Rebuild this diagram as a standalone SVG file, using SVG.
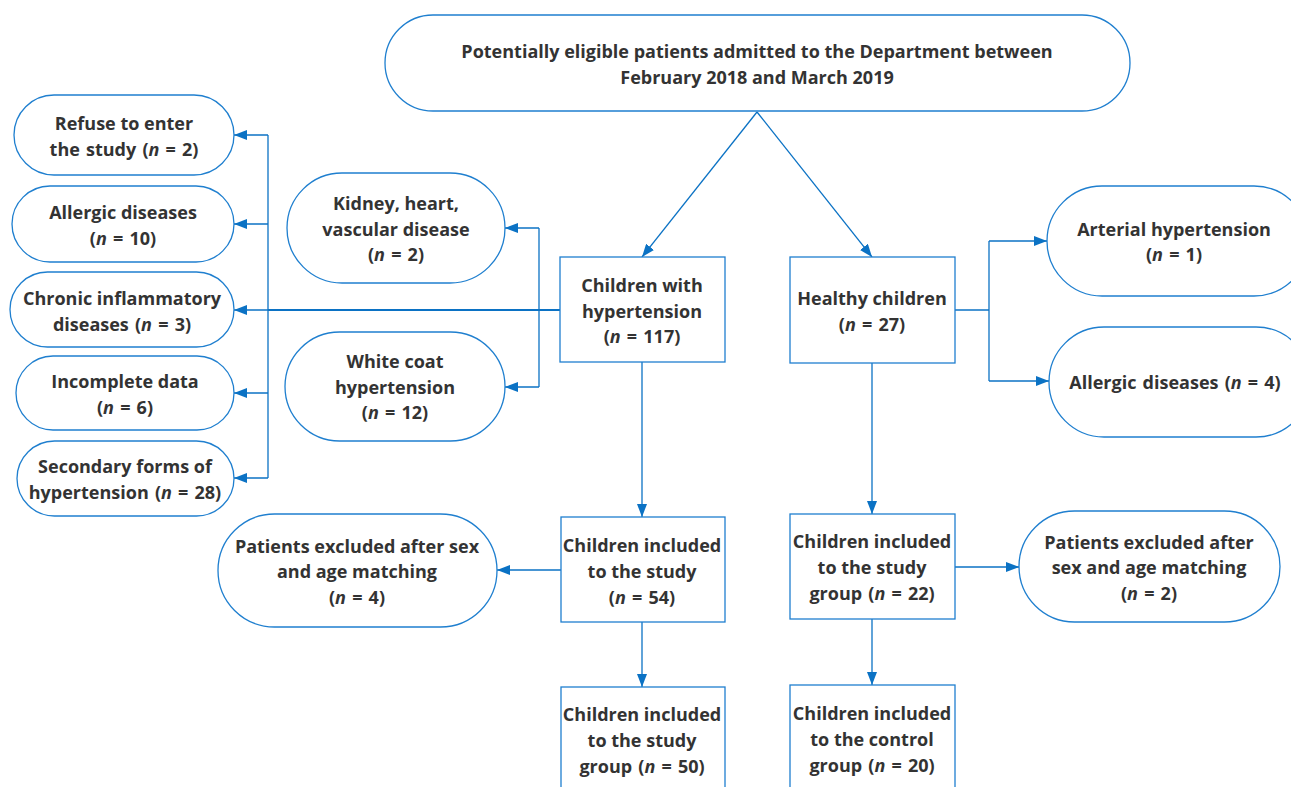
<svg xmlns="http://www.w3.org/2000/svg" width="1291" height="787" viewBox="0 0 1291 787">
<style>
.n{fill:#fff;stroke:#1f7fcf;stroke-width:1.3}
.t{font-family:"Open Sans","Noto Sans","DejaVu Sans",sans-serif;font-weight:bold;font-size:18px;fill:#333;text-anchor:middle}
.w{word-spacing:1.5px}
.i{font-style:italic}
.c{fill:none;stroke:#0b72c4;stroke-width:1.3}
.ca{fill:none;stroke:#0b72c4;stroke-width:1.3;marker-end:url(#ah)}
</style>
<defs>
<marker id="ah" markerUnits="userSpaceOnUse" markerWidth="13" markerHeight="10" refX="13" refY="5" orient="auto" viewBox="0 0 13 10">
<path d="M0,0 L13,5 L0,10 z" fill="#0b72c4"/>
</marker>
</defs>
<rect width="1291" height="787" fill="#fff"/>
<g id="connectors">
<line class="ca" x1="757" y1="112" x2="642" y2="257"/>
<line class="ca" x1="757" y1="112" x2="872" y2="257"/>
<line class="c" x1="560" y1="310" x2="268" y2="310" style="stroke-width:2.2"/>
<line class="c" x1="268" y1="135" x2="268" y2="478"/>
<line class="ca" x1="268" y1="135" x2="234" y2="135"/>
<line class="ca" x1="268" y1="224" x2="234" y2="224"/>
<line class="ca" x1="268" y1="310" x2="234" y2="310"/>
<line class="ca" x1="268" y1="393" x2="234" y2="393"/>
<line class="ca" x1="268" y1="478" x2="234" y2="478"/>
<line class="c" x1="539" y1="228" x2="539" y2="387"/>
<line class="ca" x1="539" y1="228" x2="505" y2="228"/>
<line class="ca" x1="539" y1="387" x2="505" y2="387"/>
<line class="ca" x1="642" y1="362" x2="642" y2="517"/>
<line class="ca" x1="561" y1="570" x2="497" y2="570"/>
<line class="ca" x1="642" y1="622" x2="642" y2="687"/>
<line class="c" x1="955" y1="310" x2="989" y2="310"/>
<line class="c" x1="989" y1="241" x2="989" y2="381"/>
<line class="ca" x1="989" y1="241" x2="1047" y2="241"/>
<line class="ca" x1="989" y1="381" x2="1049" y2="381"/>
<line class="ca" x1="872" y1="363" x2="872" y2="514"/>
<line class="ca" x1="955" y1="567" x2="1019" y2="567"/>
<line class="ca" x1="872" y1="619" x2="872" y2="685"/>
</g>
<g id="top"><rect class="n" x="385" y="15" width="745" height="96" rx="48"/>
<text class="t" x="757" y="58">Potentially eligible patients admitted to the Department between</text>
<text class="t" x="757" y="84">February 2018 and March 2019</text></g>
<g id="refuse"><rect class="n" x="14" y="95" width="220" height="80" rx="40"/>
<text class="t" x="124" y="130">Refuse to enter</text>
<text class="t w" x="124" y="156">the study (<tspan class="i">n</tspan> = 2)</text></g>
<g id="allergicL"><rect class="n" x="12" y="186" width="222" height="76" rx="38"/>
<text class="t" x="123" y="219">Allergic diseases</text>
<text class="t w" x="123" y="245">(<tspan class="i">n</tspan> = 10)</text></g>
<g id="chronic"><rect class="n" x="10" y="272" width="224" height="75" rx="37.5"/>
<text class="t" x="122" y="305">Chronic inflammatory</text>
<text class="t w" x="122" y="331">diseases (<tspan class="i">n</tspan> = 3)</text></g>
<g id="incomplete"><rect class="n" x="16" y="356" width="218" height="74" rx="37"/>
<text class="t" x="125" y="388">Incomplete data</text>
<text class="t w" x="125" y="414">(<tspan class="i">n</tspan> = 6)</text></g>
<g id="secondary"><rect class="n" x="17" y="441" width="217" height="75" rx="37.5"/>
<text class="t" x="125" y="473">Secondary forms of</text>
<text class="t w" x="125" y="499">hypertension (<tspan class="i">n</tspan> = 28)</text></g>
<g id="kidney"><rect class="n" x="287" y="173" width="218" height="110" rx="55"/>
<text class="t" x="396" y="210">Kidney, heart,</text>
<text class="t" x="396" y="236">vascular disease</text>
<text class="t w" x="396" y="261">(<tspan class="i">n</tspan> = 2)</text></g>
<g id="whitecoat"><rect class="n" x="285" y="332" width="220" height="109" rx="54.5"/>
<text class="t" x="395" y="368">White coat</text>
<text class="t" x="395" y="394">hypertension</text>
<text class="t w" x="395" y="419">(<tspan class="i">n</tspan> = 12)</text></g>
<g id="hyp"><rect class="n" x="560" y="257" width="165" height="105"/>
<text class="t" x="642" y="292">Children with</text>
<text class="t" x="642" y="318">hypertension</text>
<text class="t w" x="642" y="343">(<tspan class="i">n</tspan> = 117)</text></g>
<g id="healthy"><rect class="n" x="790" y="257" width="165" height="106"/>
<text class="t" x="872" y="305">Healthy children</text>
<text class="t w" x="872" y="331">(<tspan class="i">n</tspan> = 27)</text></g>
<g id="arterial"><rect class="n" x="1047" y="186" width="262" height="110" rx="55"/>
<text class="t" x="1174" y="236">Arterial hypertension</text>
<text class="t w" x="1174" y="261">(<tspan class="i">n</tspan> = 1)</text></g>
<g id="allergicR"><rect class="n" x="1049" y="327" width="262" height="110" rx="55"/>
<text class="t w" x="1175" y="389">Allergic diseases (<tspan class="i">n</tspan> = 4)</text></g>
<g id="incl54"><rect class="n" x="561" y="517" width="164" height="105"/>
<text class="t" x="642" y="552">Children included</text>
<text class="t" x="642" y="578">to the study</text>
<text class="t w" x="642" y="604">(<tspan class="i">n</tspan> = 54)</text></g>
<g id="exclL"><rect class="n" x="218" y="514" width="279" height="113" rx="56.5"/>
<text class="t" x="357" y="553">Patients excluded after sex</text>
<text class="t" x="357" y="578">and age matching</text>
<text class="t w" x="357" y="604">(<tspan class="i">n</tspan> = 4)</text></g>
<g id="incl50"><rect class="n" x="561" y="687" width="164" height="130"/>
<text class="t" x="642" y="721">Children included</text>
<text class="t" x="642" y="747">to the study</text>
<text class="t w" x="642" y="773">group (<tspan class="i">n</tspan> = 50)</text></g>
<g id="incl22"><rect class="n" x="790" y="514" width="165" height="105"/>
<text class="t" x="872" y="548">Children included</text>
<text class="t" x="872" y="574">to the study</text>
<text class="t w" x="872" y="600">group (<tspan class="i">n</tspan> = 22)</text></g>
<g id="exclR"><rect class="n" x="1019" y="511" width="261" height="111" rx="55.5"/>
<text class="t" x="1149" y="549">Patients excluded after</text>
<text class="t" x="1149" y="574">sex and age matching</text>
<text class="t w" x="1149" y="600">(<tspan class="i">n</tspan> = 2)</text></g>
<g id="incl20"><rect class="n" x="790" y="685" width="165" height="130"/>
<text class="t" x="872" y="720">Children included</text>
<text class="t" x="872" y="746">to the control</text>
<text class="t w" x="872" y="772">group (<tspan class="i">n</tspan> = 20)</text></g>
</svg>
